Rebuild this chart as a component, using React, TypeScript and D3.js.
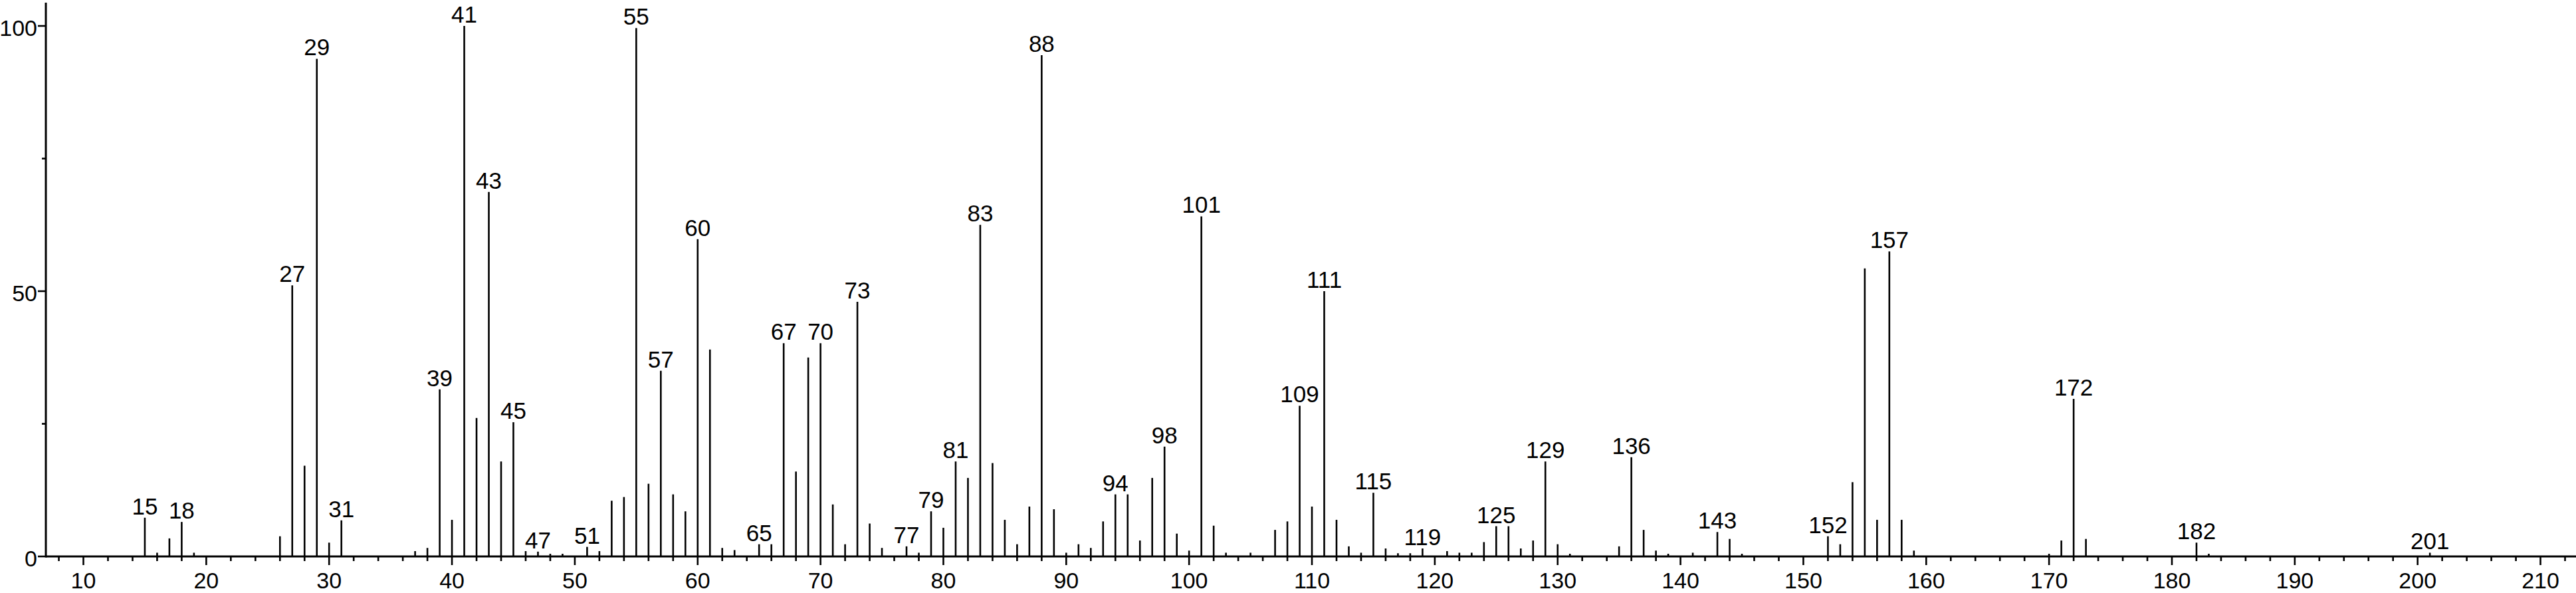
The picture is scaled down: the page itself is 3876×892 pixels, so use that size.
import React from "react";
import * as d3 from "d3";

const mz: number[] = [
  15, 16, 17, 18, 19, 26, 27, 28, 29, 30, 31, 37, 38, 39, 40, 41, 42, 43, 44, 45,
  46, 47, 48, 49, 51, 52, 53, 54, 55, 56, 57, 58, 59, 60, 61, 62, 63, 65, 66, 67,
  68, 69, 70, 71, 72, 73, 74, 75, 77, 78, 79, 80, 81, 82, 83, 84, 85, 86, 87, 88,
  89, 90, 91, 92, 93, 94, 95, 96, 97, 98, 99, 100, 101, 102, 103, 105, 107, 108, 109, 110,
  111, 112, 113, 114, 115, 116, 117, 118, 119, 121, 122, 123, 124, 125, 126, 127, 128, 129, 130, 131,
  135, 136, 137, 138, 139, 141, 143, 144, 145, 152, 153, 154, 155, 156, 157, 158, 159, 170, 171, 172,
  173, 182, 183, 201,
];
const intensity: number[] = [
  7.3, 0.7, 3.4, 6.5, 0.7, 3.8, 51.1, 17.1, 93.8, 2.6, 6.8, 1.0, 1.6, 31.5, 6.9, 100, 26.1, 68.7, 17.9, 25.3,
  1.0, 0.9, 0.5, 0.5, 1.8, 1.0, 10.5, 11.2, 99.6, 13.7, 35.0, 11.7, 8.5, 59.8, 39.0, 1.6, 1.2, 2.3, 2.3, 40.2,
  16.0, 37.5, 40.2, 9.8, 2.3, 48.0, 6.2, 1.6, 1.9, 0.7, 8.5, 5.4, 17.9, 14.8, 62.5, 17.6, 6.9, 2.3, 9.4, 94.5,
  8.9, 0.7, 2.3, 1.6, 6.6, 11.7, 11.7, 3.0, 14.8, 20.7, 4.3, 1.1, 64.1, 5.8, 0.7, 0.7, 5.0, 6.6, 28.4, 9.4,
  50.0, 6.9, 1.9, 0.7, 12.0, 1.5, 0.6, 0.6, 1.5, 1.0, 0.7, 0.7, 2.7, 5.7, 5.7, 1.5, 3.0, 17.9, 2.3, 0.5,
  1.9, 18.7, 5.0, 1.1, 0.5, 0.7, 4.6, 3.3, 0.5, 3.8, 2.3, 14.0, 54.3, 6.9, 57.5, 6.9, 1.1, 0.5, 3.0, 29.7,
  3.3, 2.6, 0.5, 0.7,
];
const labeledPeaks: number[] = [
  15, 18, 27, 29, 31, 39, 41, 43, 45, 47, 51, 55, 57, 60, 65, 67, 70, 73, 77, 79,
  81, 83, 88, 94, 98, 101, 109, 111, 115, 119, 125, 129, 136, 143, 152, 157, 172, 182, 201,
];
const xTickLabels: number[] = [10, 20, 30, 40, 50, 60, 70, 80, 90, 100, 110, 120, 130, 140, 150, 160, 170, 180, 190, 200, 210];
const yTickLabels: number[] = [0, 50, 100];
const yMinorTicks: number[] = [25, 75];

const W = 3876;
const H = 892;
const FONT = "'Liberation Sans', Arial, Helvetica, sans-serif";

export default function App() {
  const x = d3.scaleLinear().domain([10, 200]).range([125.5, 3637.7]);
  const y = d3.scaleLinear().domain([0, 100]).range([837, 39]);
  const axisX = 69;
  const axisY = y(0);
  const xMinor = d3.range(8, 214, 2).filter((v) => v % 10 !== 0 && x(v) > axisX + 2 && x(v) < W);
  const peakMap = new Map(mz.map((m, i) => [m, intensity[i]]));

  return (
    <svg
      width={W}
      height={H}
      style={{ position: "absolute", left: 0, top: 0, background: "#fff" }}
      fontFamily={FONT}
    >
      <rect x={0} y={0} width={W} height={H} fill="#fff" />
      {/* bars */}
      <g stroke="#000" strokeWidth={2.6}>
        {mz.map((m, i) => (
          <line key={m} x1={x(m)} x2={x(m)} y1={axisY} y2={y(intensity[i])} />
        ))}
      </g>
      {/* peak labels */}
      <g fontSize={35} textAnchor="middle" fill="#000">
        {labeledPeaks.map((m) => (
          <text key={m} x={x(m)} y={y(peakMap.get(m) ?? 0) - 5}>
            {m}
          </text>
        ))}
      </g>
      {/* y axis */}
      <line x1={axisX} x2={axisX} y1={4} y2={axisY + 1.5} stroke="#000" strokeWidth={3} />
      {yTickLabels.map((v) => (
        <g key={v}>
          <line x1={axisX - 12} x2={axisX} y1={y(v)} y2={y(v)} stroke="#000" strokeWidth={2.6} />
          <text x={56} y={y(v) + 15} textAnchor="end" fontSize={34} fill="#000">
            {v}
          </text>
        </g>
      ))}
      {yMinorTicks.map((v) => (
        <line key={v} x1={axisX - 6} x2={axisX} y1={y(v)} y2={y(v)} stroke="#000" strokeWidth={2.6} />
      ))}
      {/* x axis */}
      <line x1={axisX} x2={W} y1={axisY} y2={axisY} stroke="#000" strokeWidth={3} />
      {xTickLabels.map((v) => (
        <g key={v}>
          <line x1={x(v)} x2={x(v)} y1={axisY} y2={axisY + 13} stroke="#000" strokeWidth={2.6} />
          <text x={x(v)} y={885} textAnchor="middle" fontSize={34} fill="#000">
            {v}
          </text>
        </g>
      ))}
      {xMinor.map((v) => (
        <line key={v} x1={x(v)} x2={x(v)} y1={axisY} y2={axisY + 7} stroke="#000" strokeWidth={2.6} />
      ))}
    </svg>
  );
}
